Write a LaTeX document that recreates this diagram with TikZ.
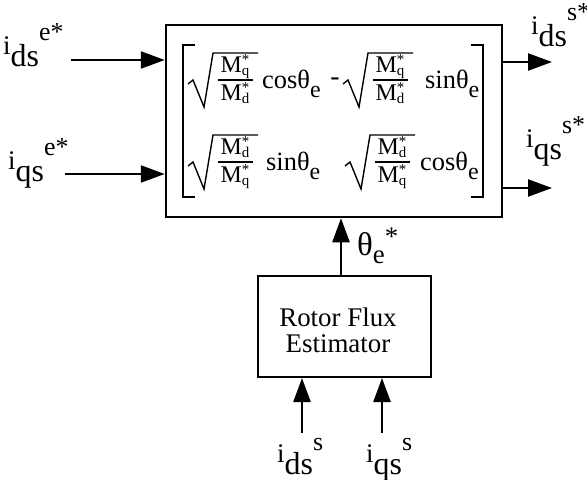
\documentclass[tikz,border=0pt]{standalone}
\usepackage{fontspec}
\setmainfont{Liberation Serif}
\usetikzlibrary{arrows.meta}
\newcommand{\fs}[1]{\fontsize{#1}{#1}\selectfont}
\newcommand{\ilab}[2]{{\fs{27}i}\raisebox{-12bp}{\fs{32}#1}\raisebox{14bp}{\fs{26}#2}}
\newcommand{\MM}[1]{{\fs{24}M}{\fs{15}\rlap{\raisebox{8bp}{*}}\raisebox{-3bp}{#1}}}
\newcommand{\fnc}[1]{{\fs{26.5}#1θ}\raisebox{-9bp}{\fs{24}e}}
\newcommand{\mentry}[7]{%
  \begin{scope}[shift={(#2,#3)}]
    \draw[rad] (0,4) -- (5,0) -- (16,27) -- (25,-27) -- (70,-27);
    \node[fracpart] (#1n) at (47,-7) {\MM{#4}};
    \node[fracpart] (#1d) at (47,21) {\MM{#5}};
    \draw[fracbar] (30,0) -- (65,0);
    \node[fnode] (#1f) at (#7,9) {\fnc{#6}};
  \end{scope}}
\begin{document}
\begin{tikzpicture}[x=1bp,y=-1bp,
  lbl/.style={anchor=base west, inner sep=0pt},
  arr/.style={line width=2.4bp, -{Triangle[length=24bp,width=17bp]}},
  blk/.style={draw, line width=2.5bp, inner sep=0pt},
  rad/.style={line width=1.4bp, line join=miter},
  brk/.style={line width=2bp},
  fracpart/.style={anchor=base, inner sep=0pt},
  fracbar/.style={line width=1.4bp},
  fnode/.style={anchor=base west, inner sep=0pt}]
\useasboundingbox (0,0) rectangle (587,480);

% main block
\node[blk, minimum width=336bp, minimum height=192bp] (mainbox) at (334,121) {};
% brackets
\draw[brk] (195,45) -- (183,45) -- (183,197) -- (195,197);
\draw[brk] (471,45) -- (483,45) -- (483,197) -- (471,197);
% matrix entries
\mentry{e11}{188}{80}{q}{d}{cos}{74}
\mentry{e12}{343}{80}{q}{d}{sin}{82}
\mentry{e21}{188}{162}{d}{q}{sin}{78}
\mentry{e22}{345}{162}{d}{q}{cos}{75}
\node[fracpart] (minus) at (335,86) {\fs{28}-};

% estimator
\node[blk, line width=2bp, minimum width=173bp, minimum height=101bp] (est) at (344.5,326.5) {};
\node[align=center, inner sep=0pt, font=\fontsize{27}{26}\selectfont] (esttxt) at (338,330) {Rotor Flux\\Estimator};

% labels
\node[lbl] (lid) at (3,55) {\ilab{ds}{e*}};
\node[lbl] (liq) at (8,170) {\ilab{qs}{e*}};
\node[lbl] (rid) at (531,35) {\ilab{ds}{s*}};
\node[lbl] (riq) at (526,148) {\ilab{qs}{s*}};
\node[lbl] (bid) at (277,462) {{\fs{27}i}\raisebox{-12bp}{\fs{32}ds}\raisebox{12bp}{\fs{26}s}};
\node[lbl] (biq) at (366,462) {{\fs{27}i}\raisebox{-12bp}{\fs{32}qs}\raisebox{12bp}{\fs{26}s}};
\node[lbl] (theta) at (357,255) {{\fs{33}θ}\raisebox{-8bp}{\fs{27}e}\raisebox{10bp}{\fs{27}*}};

% connectors
\coordinate (s1) at (71,60);
\coordinate (s2) at (65,174);
\coordinate (o1) at (552,62);
\coordinate (o2) at (552,188);
\coordinate (th) at (341,276);
\coordinate (b1) at (302,433);
\coordinate (b2) at (382,433);
\draw[arr] (s1) -- (s1 -| mainbox.west);
\draw[arr] (s2) -- (s2 -| mainbox.west);
\draw[arr] (o1 -| mainbox.east) -- (o1);
\draw[arr] (o2 -| mainbox.east) -- (o2);
\draw[arr] (th) -- (th |- mainbox.south);
\draw[arr] (b1) -- (b1 |- est.south);
\draw[arr] (b2) -- (b2 |- est.south);
\end{tikzpicture}
\end{document}
